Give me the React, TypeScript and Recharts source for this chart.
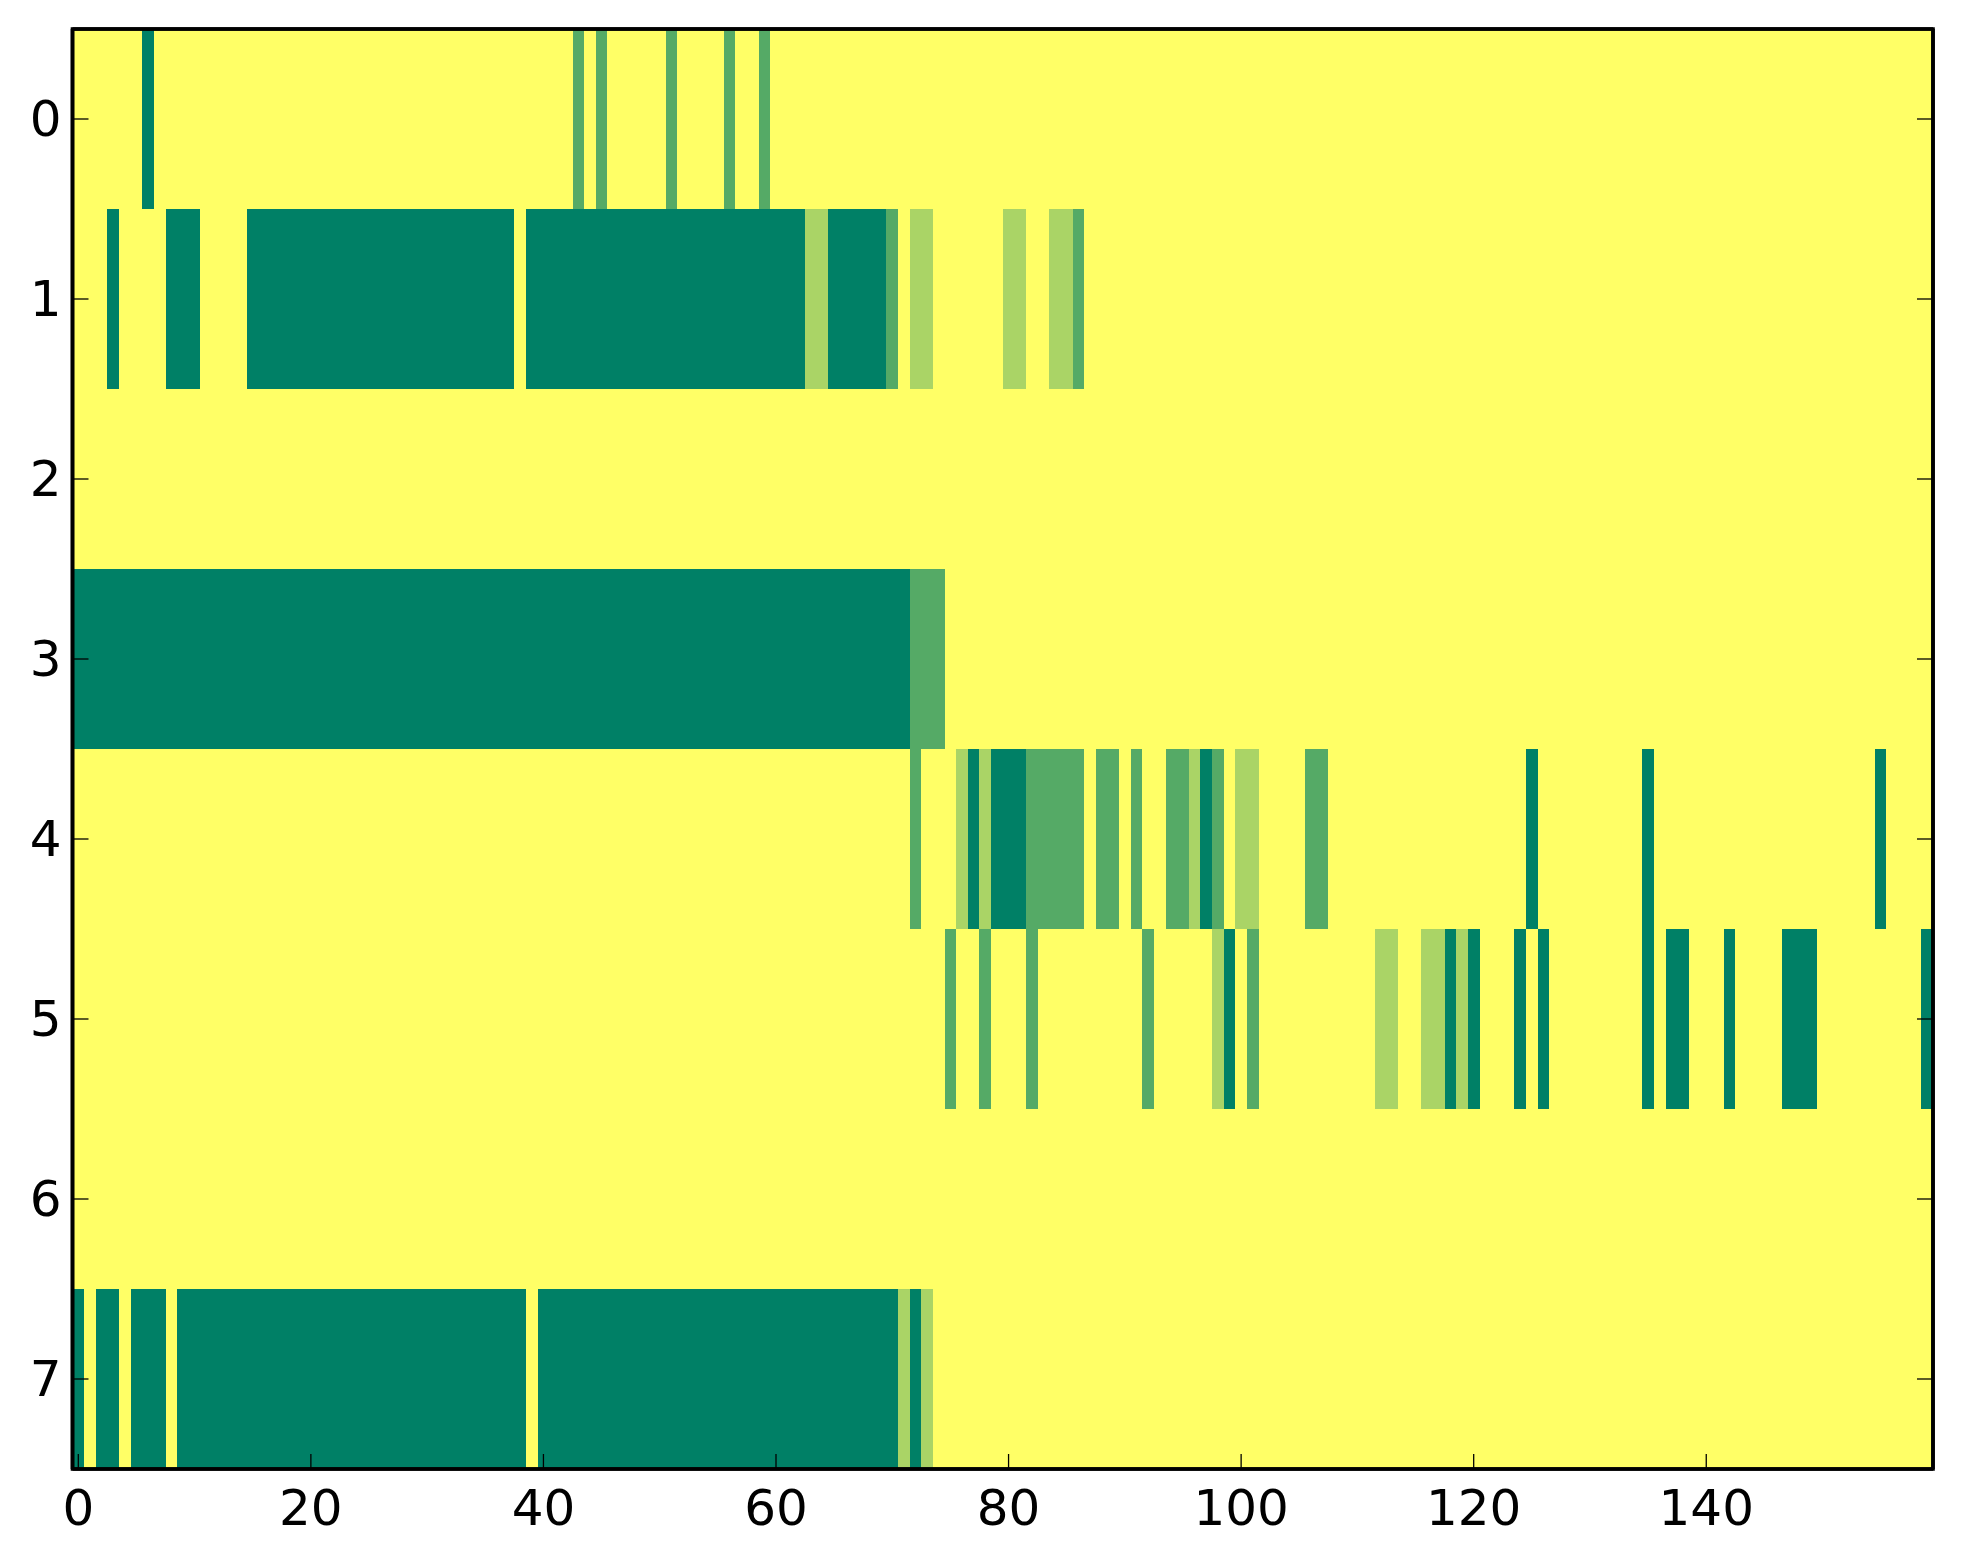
import React from "react";
import { ScatterChart, Scatter, XAxis, YAxis, ReferenceArea } from "recharts";

// runs per row: [fromCol, toCol, level] — level 0 = yellow background
type Run = [number, number, number];

const row0Runs: Run[] = [
  [6, 6, 3],
  [43, 43, 2],
  [45, 45, 2],
  [51, 51, 2],
  [56, 56, 2],
  [59, 59, 2],
];
const row1Runs: Run[] = [
  [3, 3, 3],
  [8, 10, 3],
  [15, 37, 3],
  [39, 62, 3],
  [63, 64, 1],
  [65, 69, 3],
  [70, 70, 2],
  [72, 73, 1],
  [80, 81, 1],
  [84, 85, 1],
  [86, 86, 2],
];
const row2Runs: Run[] = [];
const row3Runs: Run[] = [
  [0, 71, 3],
  [72, 74, 2],
];
const row4Runs: Run[] = [
  [72, 72, 2],
  [76, 76, 1],
  [77, 77, 3],
  [78, 78, 1],
  [79, 81, 3],
  [82, 86, 2],
  [88, 89, 2],
  [91, 91, 2],
  [94, 95, 2],
  [96, 96, 1],
  [97, 97, 3],
  [98, 98, 2],
  [100, 101, 1],
  [106, 107, 2],
  [125, 125, 3],
  [135, 135, 3],
  [155, 155, 3],
];
const row5Runs: Run[] = [
  [75, 75, 2],
  [78, 78, 2],
  [82, 82, 2],
  [92, 92, 2],
  [98, 98, 1],
  [99, 99, 3],
  [101, 101, 2],
  [112, 113, 1],
  [116, 117, 1],
  [118, 118, 3],
  [119, 119, 1],
  [120, 120, 3],
  [124, 124, 3],
  [126, 126, 3],
  [135, 135, 3],
  [137, 138, 3],
  [142, 142, 3],
  [147, 149, 3],
  [159, 159, 3],
];
const row6Runs: Run[] = [];
const row7Runs: Run[] = [
  [0, 0, 3],
  [2, 3, 3],
  [5, 7, 3],
  [9, 38, 3],
  [40, 70, 3],
  [71, 71, 1],
  [72, 72, 3],
  [73, 73, 1],
];

const rows = [row0Runs, row1Runs, row2Runs, row3Runs, row4Runs, row5Runs, row6Runs, row7Runs];
const NUM_COLS = 160;

const xTicks = [0, 20, 40, 60, 80, 100, 120, 140];
const yTicks = [0, 1, 2, 3, 4, 5, 6, 7];

// summer_r colormap at 0, 1/3, 2/3, 1
const levelColors = ["#ffff66", "#aad466", "#55aa66", "#008066"];

const W = 1963;
const H = 1564;
const LEFT = 72.5;
const RIGHT = 30;
const TOP = 29;
const BOTTOM = 95;
const CELL_W = (W - LEFT - RIGHT) / NUM_COLS;
const CELL_H = (H - TOP - BOTTOM) / rows.length;

const FONT = "'DejaVu Sans', sans-serif";

const cells: { x: number; y: number; level: number }[] = [];
rows.forEach((runs, r) => {
  for (let c = 0; c < NUM_COLS; c++) {
    const run = runs.find(([a, b]) => c >= a && c <= b);
    cells.push({ x: c, y: r, level: run ? run[2] : 0 });
  }
});

const CellShape = (props: any) => {
  const { cx, cy, payload } = props;
  return (
    <rect
      x={cx - CELL_W / 2}
      y={cy - CELL_H / 2}
      width={CELL_W + 0.6}
      height={CELL_H + 0.6}
      fill={levelColors[payload.level]}
      shapeRendering="crispEdges"
    />
  );
};

const BottomTick = ({ x, y, payload }: any) => (
  <g>
    <line x1={x} x2={x} y1={y} y2={y - 15} stroke="#000" strokeWidth={1.3} />
    <text x={x} y={y + 56} textAnchor="middle" fontSize={50} fontFamily={FONT} fill="#000">
      {payload.value}
    </text>
  </g>
);

const TopTick = ({ x, y }: any) => (
  <line x1={x} x2={x} y1={y} y2={y + 15} stroke="#000" strokeWidth={1.3} />
);

const LeftTick = ({ x, y, payload }: any) => (
  <g>
    <line x1={x} x2={x + 16} y1={y} y2={y} stroke="#000" strokeWidth={1.3} />
    <text x={x - 11} y={y + 17} textAnchor="end" fontSize={50} fontFamily={FONT} fill="#000">
      {payload.value}
    </text>
  </g>
);

const RightTick = ({ x, y }: any) => (
  <line x1={x} x2={x - 16} y1={y} y2={y} stroke="#000" strokeWidth={1.3} />
);

const frame = { stroke: "#000", strokeWidth: 3.6 };

// drawn twice: once with the cells, once on top with only axes + frame
function Heatmap({ withData }: { withData: boolean }) {
  return (
    <ScatterChart width={W} height={H} margin={{ top: 0, right: 0, bottom: 0, left: 0 }}>
      {withData && (
        <Scatter
          data={cells}
          dataKey="level"
          xAxisId="b"
          yAxisId="l"
          shape={CellShape}
          isAnimationActive={false}
        />
      )}
      {!withData && (
        <ReferenceArea
          xAxisId="b"
          yAxisId="l"
          x1={-0.5}
          x2={NUM_COLS - 0.5}
          y1={-0.5}
          y2={rows.length - 0.5}
          fill="none"
          fillOpacity={0}
          stroke="#000"
          strokeWidth={3.6}
          strokeOpacity={1}
          ifOverflow="visible"
        />
      )}
      <XAxis
        xAxisId="b"
        type="number"
        dataKey="x"
        domain={[-0.5, NUM_COLS - 0.5]}
        ticks={xTicks}
        interval={0}
        height={BOTTOM}
        tickSize={0}
        tickMargin={0}
        tick={withData ? false : <BottomTick />}
        axisLine={withData ? false : frame}
        allowDataOverflow
      />
      <XAxis
        xAxisId="t"
        orientation="top"
        type="number"
        domain={[-0.5, NUM_COLS - 0.5]}
        ticks={xTicks}
        interval={0}
        height={TOP}
        tickSize={0}
        tickMargin={0}
        tick={withData ? false : <TopTick />}
        axisLine={withData ? false : frame}
        allowDataOverflow
      />
      <YAxis
        yAxisId="l"
        type="number"
        dataKey="y"
        domain={[-0.5, rows.length - 0.5]}
        reversed
        ticks={yTicks}
        interval={0}
        width={LEFT}
        tickSize={0}
        tickMargin={0}
        tick={withData ? false : <LeftTick />}
        axisLine={withData ? false : frame}
        allowDataOverflow
      />
      <YAxis
        yAxisId="r"
        orientation="right"
        type="number"
        domain={[-0.5, rows.length - 0.5]}
        reversed
        ticks={yTicks}
        interval={0}
        width={RIGHT}
        tickSize={0}
        tickMargin={0}
        tick={withData ? false : <RightTick />}
        axisLine={withData ? false : frame}
        allowDataOverflow
      />
    </ScatterChart>
  );
}

export default function App() {
  return (
    <div style={{ position: "absolute", left: 0, top: 0, width: W, height: H, background: "#fff" }}>
      <div style={{ position: "absolute", left: 0, top: 0 }}>
        <Heatmap withData />
      </div>
      <div style={{ position: "absolute", left: 0, top: 0 }}>
        <Heatmap withData={false} />
      </div>
    </div>
  );
}
